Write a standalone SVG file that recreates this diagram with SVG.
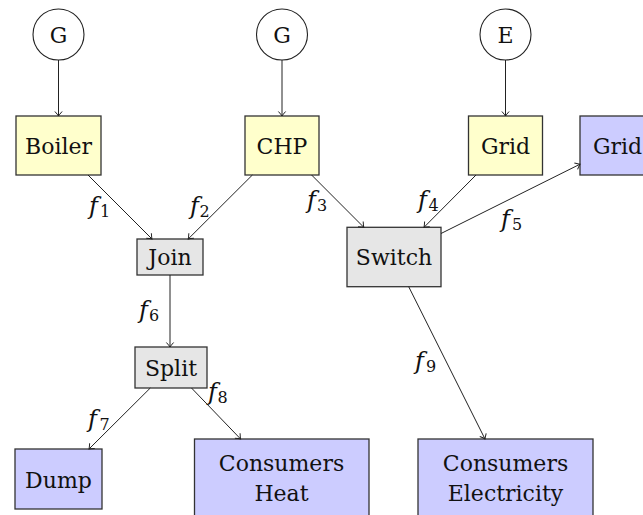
<svg xmlns="http://www.w3.org/2000/svg" width="643" height="515" viewBox="0 0 643 515">
  <style>
    .src { fill: #ffffff; stroke: #222; stroke-width: 1.1; }
    .sup { fill: #ffffcc; stroke: #333; stroke-width: 1.3; }
    .mid { fill: #e6e6e6; stroke: #333; stroke-width: 1.3; }
    .dem { fill: #ccccff; stroke: #333; stroke-width: 1.3; }
    .t { font-family: "DejaVu Serif", serif; font-size: 22px; fill: #111; text-anchor: middle; }
    .m { font-family: "DejaVu Serif", serif; fill: #111; }
    .f { font-style: italic; font-size: 24px; }
    .s { font-size: 16px; }
    .edge { fill: none; stroke: #222; stroke-width: 1; marker-end: url(#arr); }
  </style>
  <defs>
    <marker id="arr" viewBox="-6 -5 8 10" markerWidth="8" markerHeight="10" refX="0" refY="0" orient="auto" markerUnits="userSpaceOnUse">
      <path d="M -4.5 -3.6 Q -1.5 -0.9 0 0 Q -1.5 0.9 -4.5 3.6" fill="none" stroke="#222" stroke-width="1"/>
    </marker>
  </defs>

  <rect width="643" height="515" fill="#ffffff"/>

  <!-- sources -->
  <g id="gas1"><circle class="src" cx="58.5" cy="34.5" r="25.5"/><text class="t" x="58.5" y="42.5">G</text></g>
  <g id="gas2"><circle class="src" cx="282" cy="34.5" r="25.5"/><text class="t" x="282" y="42.5">G</text></g>
  <g id="elec"><circle class="src" cx="505.5" cy="34.5" r="25.5"/><text class="t" x="505.5" y="42.5">E</text></g>

  <!-- supply units -->
  <g id="boiler"><rect class="sup" x="16" y="116" width="85" height="59"/><text class="t" x="58.5" y="153.5">Boiler</text></g>
  <g id="chp"><rect class="sup" x="245" y="116" width="74" height="59"/><text class="t" x="282" y="153.5">CHP</text></g>
  <g id="grid-in"><rect class="sup" x="468.5" y="116" width="74" height="59"/><text class="t" x="505.5" y="153.5">Grid</text></g>
  <g id="grid-out"><rect class="dem" x="580" y="116" width="75" height="59"/><text class="t" x="617.5" y="153.5">Grid</text></g>

  <!-- junctions -->
  <g id="join"><rect class="mid" x="137" y="239" width="66" height="36"/><text class="t" x="170" y="265">Join</text></g>
  <g id="switch"><rect class="mid" x="347" y="227.3" width="94" height="59.4"/><text class="t" x="394" y="265">Switch</text></g>
  <g id="split"><rect class="mid" x="135" y="347" width="72" height="41"/><text class="t" x="171" y="375.5">Split</text></g>

  <!-- demands -->
  <g id="dump"><rect class="dem" x="15" y="449" width="87" height="60"/><text class="t" x="58.5" y="487.5">Dump</text></g>
  <g id="heat"><rect class="dem" x="194.5" y="439" width="174.5" height="82"/><text class="t" x="281.5" y="470.5">Consumers</text><text class="t" x="281.5" y="501">Heat</text></g>
  <g id="power"><rect class="dem" x="418" y="439" width="175" height="82"/><text class="t" x="505.5" y="470.5">Consumers</text><text class="t" x="505.5" y="501">Electricity</text></g>

  <!-- flows -->
  <g id="connectors">
    <path class="edge" d="M58.5 60 L58.5 116"/>
    <path class="edge" d="M282 60 L282 116"/>
    <path class="edge" d="M505.5 60 L505.5 116"/>
    <path class="edge" d="M88 175 L152 239"/>
    <path class="edge" d="M252.4 175 L188.2 239"/>
    <path class="edge" d="M311.6 175 L363.8 227.3"/>
    <path class="edge" d="M476 175 L424 227.3"/>
    <path class="edge" d="M441 233.5 L580 164.2"/>
    <path class="edge" d="M170 275 L170 347"/>
    <path class="edge" d="M150.3 388 L89 449"/>
    <path class="edge" d="M191.5 388 L240.6 439"/>
    <path class="edge" d="M408.7 286.7 L485 439"/>
  </g>

  <!-- flow labels -->
  <g id="labels">
    <text class="m" x="89" y="214"><tspan class="f">f</tspan><tspan class="s" x="100" dy="3">1</tspan></text>
    <text class="m" x="190" y="214"><tspan class="f">f</tspan><tspan class="s" x="199.5" dy="3">2</tspan></text>
    <text class="m" x="307" y="208"><tspan class="f">f</tspan><tspan class="s" x="317" dy="3">3</tspan></text>
    <text class="m" x="418" y="208"><tspan class="f">f</tspan><tspan class="s" x="428.5" dy="3">4</tspan></text>
    <text class="m" x="501" y="227"><tspan class="f">f</tspan><tspan class="s" x="512" dy="3">5</tspan></text>
    <text class="m" x="139" y="318"><tspan class="f">f</tspan><tspan class="s" x="149" dy="3">6</tspan></text>
    <text class="m" x="88" y="427"><tspan class="f">f</tspan><tspan class="s" x="99.5" dy="3">7</tspan></text>
    <text class="m" x="208" y="400"><tspan class="f">f</tspan><tspan class="s" x="217.5" dy="3">8</tspan></text>
    <text class="m" x="415" y="369"><tspan class="f">f</tspan><tspan class="s" x="426" dy="3">9</tspan></text>
  </g>
</svg>
